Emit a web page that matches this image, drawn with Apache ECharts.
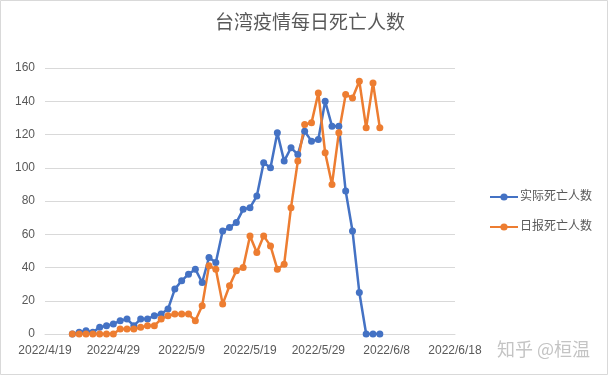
<!DOCTYPE html>
<html>
<head>
<meta charset="utf-8">
<script src="https://cdn.jsdelivr.net/npm/echarts@6/dist/echarts.min.js"></script>
<style>html,body{margin:0;padding:0;background:#fff}#c{width:608px;height:375px}</style>
</head>
<body>
<div id="c"></div>
<script>
var title = '台湾疫情每日死亡人数';
var seriesNames = ['实际死亡人数', '日报死亡人数'];
var dates = ['2022/4/23','2022/4/24','2022/4/25','2022/4/26','2022/4/27','2022/4/28','2022/4/29','2022/4/30',
  '2022/5/1','2022/5/2','2022/5/3','2022/5/4','2022/5/5','2022/5/6','2022/5/7','2022/5/8','2022/5/9','2022/5/10',
  '2022/5/11','2022/5/12','2022/5/13','2022/5/14','2022/5/15','2022/5/16','2022/5/17','2022/5/18','2022/5/19','2022/5/20',
  '2022/5/21','2022/5/22','2022/5/23','2022/5/24','2022/5/25','2022/5/26','2022/5/27','2022/5/28','2022/5/29','2022/5/30',
  '2022/5/31','2022/6/1','2022/6/2','2022/6/3','2022/6/4','2022/6/5','2022/6/6','2022/6/7'];
var actual = [0,1,2,1,4,5,6,8,9,5,9,9,11,12,15,27,32,36,39,31,46,43,62,64,67,75,76,83,103,100,121,104,112,108,122,116,117,140,125,125,86,62,25,0,0,0];
var reported = [0,0,0,0,0,0,0,3,3,3,4,5,5,9,11,12,12,12,8,17,41,39,18,29,38,40,59,49,59,53,39,42,76,104,126,127,145,109,90,121,144,142,152,124,151,124];
var axisStart = '2022/4/19';
var axisEnd = '2022/6/18';
var yMin = 0, yMax = 160, yStep = 20, xStepDays = 10;

function dayNum(s){ var p = s.split('/'); return Date.UTC(+p[0], +p[1]-1, +p[2]) / 86400000; }
var d0 = dayNum(axisStart);
function pairs(vals){ return vals.map(function(v,i){ return [dayNum(dates[i]) - d0, v]; }); }
function fmt(v){ var d = new Date((d0 + v) * 86400000); return d.getUTCFullYear() + '/' + (d.getUTCMonth()+1) + '/' + d.getUTCDate(); }

var FONT = '"Liberation Sans", "Noto Sans CJK SC", sans-serif';
var chart = echarts.init(document.getElementById('c'), null, {renderer:'canvas'});
chart.setOption({
  animation: false,
  backgroundColor: '#fff',
  title: { text: title, left: 305, top: 9, textAlign: 'center',
    textStyle: { fontSize: 19, fontWeight: 'normal', color: '#595959', fontFamily: FONT } },
  grid: { left: 45, right: 153, top: 68, bottom: 41, containLabel: false },
  legend: { orient: 'vertical', left: 489, top: 191, padding: 0, itemWidth: 28, itemHeight: 9, itemGap: 18,
    data: seriesNames,
    textStyle: { fontSize: 12, color: '#595959', fontFamily: FONT, padding: [0,0,0,-3] } },
  xAxis: { type: 'value', min: 0, max: dayNum(axisEnd) - d0, interval: xStepDays,
    axisLine: { show: true, lineStyle: { color: '#d9d9d9', width: 1 } },
    axisTick: { show: false }, splitLine: { show: false },
    axisLabel: { formatter: fmt, color: '#595959', fontSize: 12, fontFamily: FONT, margin: 11 } },
  yAxis: { type: 'value', min: yMin, max: yMax, interval: yStep,
    axisLine: { show: false }, axisTick: { show: false },
    splitLine: { lineStyle: { color: '#d9d9d9', width: 1 } },
    axisLabel: { color: '#595959', fontSize: 12, fontFamily: FONT, margin: 10 } },
  series: [
    { name: seriesNames[0], type: 'line', data: pairs(actual), symbol: 'circle', symbolSize: 7,
      itemStyle: { color: '#4472C4' }, lineStyle: { color: '#4472C4', width: 2.5 } },
    { name: seriesNames[1], type: 'line', data: pairs(reported), symbol: 'circle', symbolSize: 7,
      itemStyle: { color: '#ED7D31' }, lineStyle: { color: '#ED7D31', width: 2.5 } }
  ],
  graphic: [
    { type: 'rect', shape: { x: 0.5, y: 0.5, width: 607, height: 374 }, silent: true,
      style: { fill: 'none', stroke: '#d9d9d9', lineWidth: 1 } },
    { type: 'text', left: 497, top: 340, silent: true,
      style: { text: '知乎 @桓温', fontSize: 18, fill: '#c4c4c4', fontFamily: '"Noto Sans CJK SC", sans-serif' } }
  ]
});
</script>
</body>
</html>
